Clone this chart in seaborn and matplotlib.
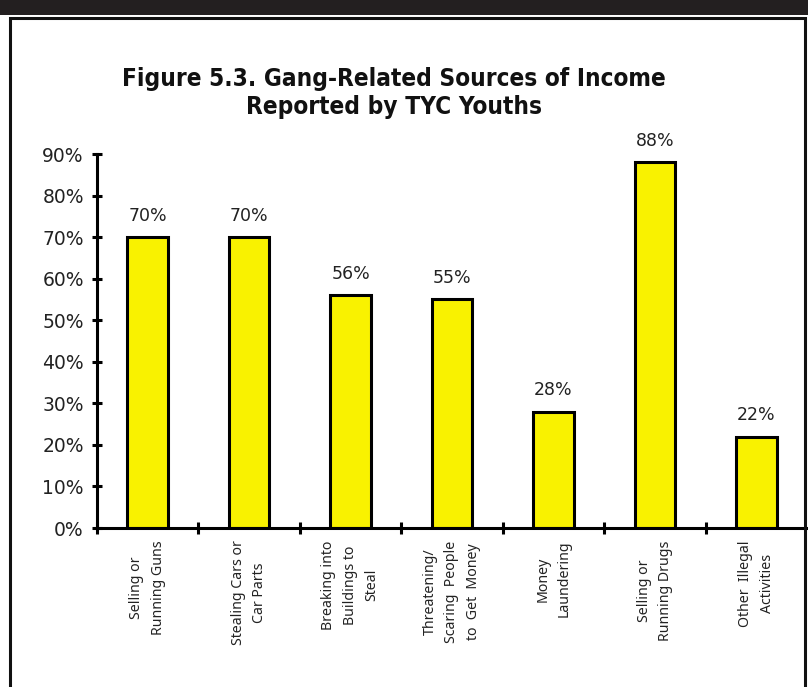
import matplotlib
matplotlib.use("Agg")
import matplotlib.pyplot as plt
from matplotlib.patches import Rectangle
from matplotlib.ticker import FixedLocator
from matplotlib import font_manager
import seaborn as sns
import pandas as pd

categories = [
    "Selling or\nRunning Guns",
    "Stealing Cars or\nCar Parts",
    "Breaking into\nBuildings to\nSteal",
    "Threatening/\nScaring  People\nto  Get  Money",
    "Money\nLaundering",
    "Selling or\nRunning Drugs",
    "Other  Illegal\nActivities",
]
values = [70, 70, 56, 55, 28, 88, 22]
y_ticks = [0, 10, 20, 30, 40, 50, 60, 70, 80, 90]
title_text = "Figure 5.3. Gang-Related Sources of Income\nReported by TYC Youths"

df = pd.DataFrame({"source": categories, "pct": values})

sns.set_theme(style="white")
plt.rcParams["font.family"] = ["DejaVu Sans"]


def find_face(*patterns):
    for pat in patterns:
        for f in font_manager.fontManager.ttflist:
            if f.fname.rsplit("/", 1)[-1] == pat:
                return f.fname
    return None


# narrow bold face for the heading, when installed
bold_narrow = find_face("LiberationSansNarrow-Bold.ttf", "DejaVuSansCondensed-Bold.ttf")
title_font = font_manager.FontProperties(fname=bold_narrow) if bold_narrow else \
    font_manager.FontProperties(family="DejaVu Sans", weight="bold")
label_font = font_manager.FontProperties(family=["Noto Sans", "DejaVu Sans"])

W, H = 808, 687
fig = plt.figure(figsize=(W / 100, H / 100), dpi=100)
fig.patch.set_facecolor("white")

# page furniture: dark header band and the box around the figure
fig.patches.append(Rectangle((0, 1 - 15 / H), 1, 15 / H, transform=fig.transFigure,
                             facecolor="#231f20", edgecolor="none", zorder=0))
fig.patches.append(Rectangle((10 / W, -0.05), (805 - 10) / W, 1.05 - 18 / H,
                             transform=fig.transFigure, facecolor="none",
                             edgecolor="#111111", linewidth=2.2, zorder=1))

left, right = 97 / W, 807 / W
bottom, top = 1 - 528 / H, 1 - 154 / H
ax = fig.add_axes([left, bottom, right - left, top - bottom])
ax.set_facecolor("none")

sns.barplot(data=df, x="source", y="pct", ax=ax, color="#f9f200", width=0.4,
            edgecolor="black", linewidth=2.2, saturation=1)

ax.set_xlim(-0.5, len(categories) - 0.5)
ax.set_ylim(0, 90)
ax.set_xlabel("")
ax.set_ylabel("")

# value labels above each bar
for i, v in enumerate(values):
    ax.annotate(f"{v}%", (i, v), xytext=(0, 9), textcoords="offset points",
                ha="center", va="bottom", fontsize=12.5, color="#222222")

# y axis
ax.set_yticks(y_ticks)
ax.set_yticklabels([f"{t}%" for t in y_ticks], fontsize=13.5, color="#222222")
ax.tick_params(axis="y", direction="inout", length=7, width=2.2, color="black", pad=6, left=True)

# x axis: category labels at centres, tick marks at the boundaries
ax.set_xticks(range(len(categories)))
ax.set_xticklabels(categories, rotation=90, ha="center", va="top",
                   multialignment="center", fontproperties=label_font,
                   fontsize=10.2, linespacing=1.6, color="#222222")
ax.tick_params(axis="x", which="major", length=0, pad=9, bottom=True)
ax.xaxis.set_minor_locator(FixedLocator([i - 0.5 for i in range(len(categories))]))
ax.tick_params(axis="x", which="minor", direction="inout", length=8, width=2.2,
               color="black", bottom=True)

for side in ("top", "right"):
    ax.spines[side].set_visible(False)
for side in ("left", "bottom"):
    ax.spines[side].set_color("black")
    ax.spines[side].set_linewidth(2.2)
ax.grid(False)

title_size = 17.5 if bold_narrow else 16
fig.text(394 / W, 1 - 93 / H, title_text, ha="center", va="center",
         fontproperties=title_font, fontsize=title_size,
         linespacing=1.22, color="#111111")

fig.savefig("out.png", dpi=100, facecolor="white")
